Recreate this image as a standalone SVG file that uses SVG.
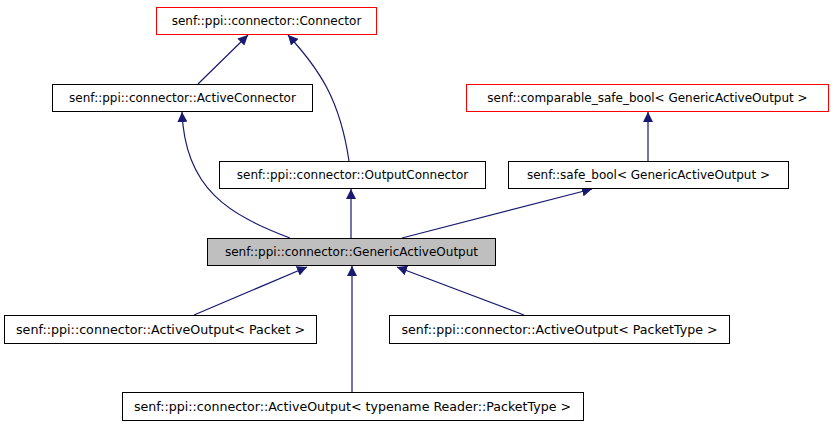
<svg xmlns="http://www.w3.org/2000/svg" width="835" height="427" viewBox="0 0 835 427">
<style>
.n rect{fill:#fff;stroke:#000;stroke-width:1}
.n.red rect{stroke:#ff0000}
.n.cur rect{fill:#bfbfbf}
.n text{font-family:"DejaVu Sans",sans-serif;font-size:12px;fill:#000;text-anchor:middle}
.e path{fill:none;stroke:#191970;stroke-width:1.2}
</style>
<defs>
<marker id="a" viewBox="0 0 10 10" refX="10" refY="5" markerWidth="10" markerHeight="10" markerUnits="userSpaceOnUse" orient="auto">
<path d="M0,0 L10,5 L0,10 z" fill="#191970"/>
</marker>
</defs>
<g class="e">
<path d="M198,84 L248,35" marker-end="url(#a)"/>
<path d="M349,161 C340,100 320,70 288,35" marker-end="url(#a)"/>
<path d="M290,238 C230,215 185,190 182,112" marker-end="url(#a)"/>
<path d="M351,238 L351,189" marker-end="url(#a)"/>
<path d="M402,238 L592,189" marker-end="url(#a)"/>
<path d="M648,161 L648,112" marker-end="url(#a)"/>
<path d="M194,315 L307,267" marker-end="url(#a)"/>
<path d="M524,315 L397,267" marker-end="url(#a)"/>
<path d="M352,393 L352,266" marker-end="url(#a)"/>
</g>
<g id="connector" class="n red"><rect x="156.5" y="7.5" width="220" height="27"/><text x="266.5" y="25">senf::ppi::connector::Connector</text></g>
<g id="activeconnector" class="n"><rect x="52.5" y="84.5" width="260" height="27"/><text x="182.5" y="102">senf::ppi::connector::ActiveConnector</text></g>
<g id="comparable" class="n red"><rect x="466.5" y="84.5" width="362" height="27"/><text x="647.5" y="102">senf::comparable_safe_bool&lt; GenericActiveOutput &gt;</text></g>
<g id="outputconnector" class="n"><rect x="219.5" y="161.5" width="266" height="27"/><text x="352.5" y="179">senf::ppi::connector::OutputConnector</text></g>
<g id="safebool" class="n"><rect x="508.5" y="161.5" width="280" height="27"/><text x="648.5" y="179">senf::safe_bool&lt; GenericActiveOutput &gt;</text></g>
<g id="generic" class="n cur"><rect x="207.5" y="238.5" width="288" height="27"/><text x="351.5" y="256">senf::ppi::connector::GenericActiveOutput</text></g>
<g id="aopacket" class="n"><rect x="4.5" y="315.5" width="312" height="28"/><text x="160.5" y="334" textLength="289" lengthAdjust="spacingAndGlyphs">senf::ppi::connector::ActiveOutput&lt; Packet &gt;</text></g>
<g id="aopackettype" class="n"><rect x="389.5" y="315.5" width="340" height="28"/><text x="559.5" y="334" textLength="316" lengthAdjust="spacingAndGlyphs">senf::ppi::connector::ActiveOutput&lt; PacketType &gt;</text></g>
<g id="aoreader" class="n"><rect x="122.5" y="392.5" width="461" height="28"/><text x="352.5" y="411" textLength="437" lengthAdjust="spacingAndGlyphs">senf::ppi::connector::ActiveOutput&lt; typename Reader::PacketType &gt;</text></g>
</svg>
